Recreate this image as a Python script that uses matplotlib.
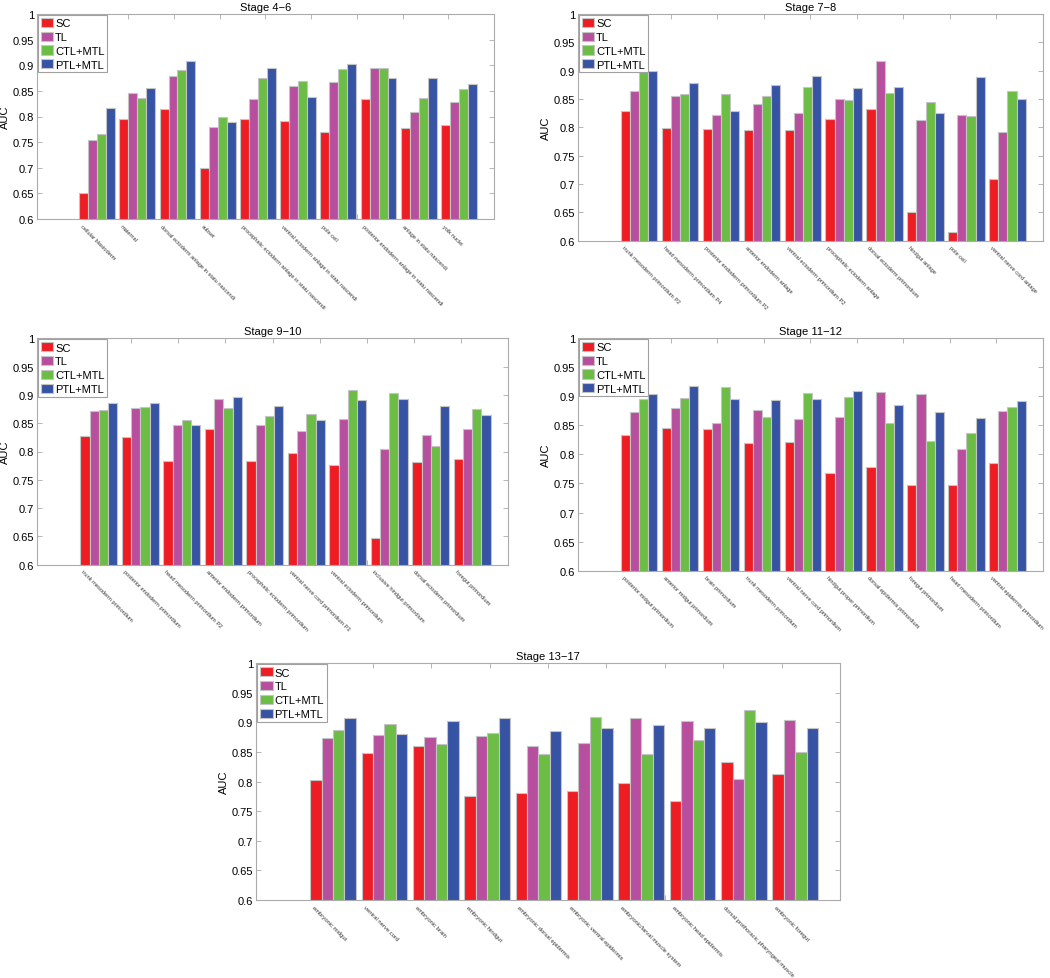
import matplotlib
matplotlib.use("Agg")
import matplotlib.pyplot as plt
from matplotlib.ticker import FuncFormatter
import numpy as np

plt.rcParams['font.family'] = ['Liberation Sans', 'DejaVu Sans']

series = ["SC", "TL", "CTL+MTL", "PTL+MTL"]
colors = ["#EE1D24", "#B84F9E", "#6CBD45", "#3753A4"]

titles = ["Stage 4\u22126", "Stage 7\u22128", "Stage 9\u221210", "Stage 11\u221212", "Stage 13\u221217"]

cats_4_6 = ["cellular blastoderm", "maternal", "dorsal ectoderm anlage in statu nascendi", "subset",
            "procephalic ectoderm anlage in statu nascendi", "ventral ectoderm anlage in statu nascendi",
            "pole cell", "posterior endoderm anlage in statu nascendi", "anlage in statu nascendi", "yolk nuclei"]
sc_4_6 = [0.651, 0.796, 0.815, 0.700, 0.795, 0.791, 0.770, 0.835, 0.777, 0.783]
tl_4_6 = [0.755, 0.845, 0.879, 0.779, 0.835, 0.859, 0.867, 0.894, 0.809, 0.828]
ctl_4_6 = [0.765, 0.836, 0.890, 0.799, 0.875, 0.869, 0.892, 0.895, 0.836, 0.853]
ptl_4_6 = [0.816, 0.855, 0.909, 0.789, 0.895, 0.839, 0.902, 0.875, 0.876, 0.863]

cats_7_8 = ["trunk mesoderm primordium P2", "head mesoderm primordium P4", "posterior endoderm primordium P2",
            "anterior endoderm anlage", "ventral ectoderm primordium P2", "procephalic ectoderm anlage",
            "dorsal ectoderm primordium", "hindgut anlage", "pole cell", "ventral nerve cord anlage"]
sc_7_8 = [0.828, 0.799, 0.797, 0.795, 0.795, 0.814, 0.832, 0.650, 0.615, 0.709]
tl_7_8 = [0.865, 0.855, 0.822, 0.841, 0.826, 0.850, 0.917, 0.813, 0.822, 0.792]
ctl_7_8 = [0.898, 0.859, 0.858, 0.855, 0.871, 0.849, 0.861, 0.845, 0.820, 0.864]
ptl_7_8 = [0.900, 0.879, 0.828, 0.875, 0.890, 0.869, 0.871, 0.825, 0.889, 0.850]

cats_9_10 = ["trunk mesoderm primordium", "posterior endoderm primordium", "head mesoderm primordium P2",
             "anterior endoderm primordium", "procephalic ectoderm primordium", "ventral nerve cord primordium P3",
             "ventral ectoderm primordium", "inclusive hindgut primordium", "dorsal ectoderm primordium",
             "foregut primordium"]
sc_9_10 = [0.827, 0.825, 0.783, 0.840, 0.783, 0.797, 0.777, 0.648, 0.782, 0.786]
tl_9_10 = [0.871, 0.876, 0.847, 0.893, 0.847, 0.837, 0.857, 0.805, 0.830, 0.839]
ctl_9_10 = [0.873, 0.879, 0.855, 0.877, 0.862, 0.866, 0.908, 0.903, 0.810, 0.875]
ptl_9_10 = [0.885, 0.886, 0.846, 0.896, 0.881, 0.856, 0.891, 0.893, 0.880, 0.865]

cats_11_12 = ["posterior midgut primordium", "anterior midgut primordium", "brain primordium",
              "trunk mesoderm primordium", "ventral nerve cord primordium", "hindgut proper primordium",
              "dorsal epidermis primordium", "foregut primordium", "head mesoderm primordium",
              "ventral epidermis primordium"]
sc_11_12 = [0.833, 0.846, 0.844, 0.820, 0.822, 0.768, 0.779, 0.747, 0.748, 0.785]
tl_11_12 = [0.872, 0.879, 0.854, 0.876, 0.861, 0.865, 0.907, 0.903, 0.810, 0.874]
ctl_11_12 = [0.895, 0.897, 0.915, 0.865, 0.906, 0.899, 0.854, 0.823, 0.837, 0.881]
ptl_11_12 = [0.904, 0.917, 0.895, 0.894, 0.896, 0.909, 0.884, 0.873, 0.863, 0.891]

cats_13_17 = ["embryonic midgut", "ventral nerve cord", "embryonic brain", "embryonic hindgut",
              "embryonic dorsal epidermis", "embryonic ventral epidermis", "embryonic/larval muscle system",
              "embryonic head epidermis", "dorsal prothoracic pharyngeal muscle", "embryonic foregut"]
sc_13_17 = [0.803, 0.848, 0.860, 0.775, 0.781, 0.785, 0.798, 0.767, 0.833, 0.813]
tl_13_17 = [0.873, 0.879, 0.875, 0.877, 0.861, 0.866, 0.907, 0.903, 0.804, 0.904]
ctl_13_17 = [0.888, 0.897, 0.863, 0.882, 0.846, 0.910, 0.847, 0.870, 0.921, 0.850]
ptl_13_17 = [0.907, 0.880, 0.903, 0.908, 0.886, 0.890, 0.895, 0.890, 0.901, 0.890]

yticks = [0.6, 0.65, 0.7, 0.75, 0.8, 0.85, 0.9, 0.95, 1.0]

panels = [
    (titles[0], cats_4_6, [sc_4_6, tl_4_6, ctl_4_6, ptl_4_6], (36.7, 494.0, 15.0, 220.0), 4.1),
    (titles[1], cats_7_8, [sc_7_8, tl_7_8, ctl_7_8, ptl_7_8], (577.7, 1043.0, 15.0, 241.7), 4.1),
    (titles[2], cats_9_10, [sc_9_10, tl_9_10, ctl_9_10, ptl_9_10], (36.7, 508.3, 339.3, 565.7), 4.1),
    (titles[3], cats_11_12, [sc_11_12, tl_11_12, ctl_11_12, ptl_11_12], (577.7, 1043.0, 339.0, 571.7), 4.1),
    (titles[4], cats_13_17, [sc_13_17, tl_13_17, ctl_13_17, ptl_13_17], (256.0, 840.0, 664.3, 901.0), 4.2),
]

W, H = 1050, 979
fig = plt.figure(figsize=(W / 100, H / 100), dpi=100)

bw = 0.2225
x0, x1 = -1.5, 9.87
frame_col = "#ABABAB"

for title, cats, vals, (l, r, t, b), lfs in panels:
    ax = fig.add_axes([l / W, 1 - b / H, (r - l) / W, (b - t) / H])
    xs = np.arange(len(cats))
    for k, (name, col, v) in enumerate(zip(series, colors, vals)):
        ax.bar(xs + (k - 1.5) * bw, v, width=bw, color=col, edgecolor="#C4C4C4",
               linewidth=0.8, label=name, zorder=2)
    ax.set_xlim(x0, x1)
    ax.set_ylim(0.6, 1.0)
    ax.set_yticks(yticks)
    ax.yaxis.set_major_formatter(FuncFormatter(lambda v, p: "%g" % round(v, 2)))
    ax.set_xticks([x0 + i * (x1 - x0) / 10 for i in range(1, 10)])
    ax.set_xticklabels([])
    ax.tick_params(direction="in", length=3.5, width=0.6, color=frame_col,
                   top=True, right=True, labelsize=8, pad=2)
    for s in ax.spines.values():
        s.set_color(frame_col)
        s.set_linewidth(0.8)
    ax.set_title(title, fontsize=8, pad=3)
    ax.set_ylabel("AUC", fontsize=8, labelpad=2)
    leg = ax.legend(loc="upper left", fontsize=8, handlelength=1.15, handleheight=0.9,
                    handletextpad=0.15, borderpad=0.25, labelspacing=0.3,
                    borderaxespad=0.1, fancybox=False, framealpha=1, edgecolor="#A0A0A0")
    leg.get_frame().set_linewidth(0.8)
    for g, name in enumerate(cats):
        ax.annotate(name, xy=(g - 0.36, 0.6), xycoords="data", xytext=(0, -3),
                    textcoords="offset points", rotation=-45, rotation_mode="anchor",
                    ha="left", va="top", fontsize=lfs, color="#333333",
                    annotation_clip=False)

fig.savefig("out.png", dpi=100)
